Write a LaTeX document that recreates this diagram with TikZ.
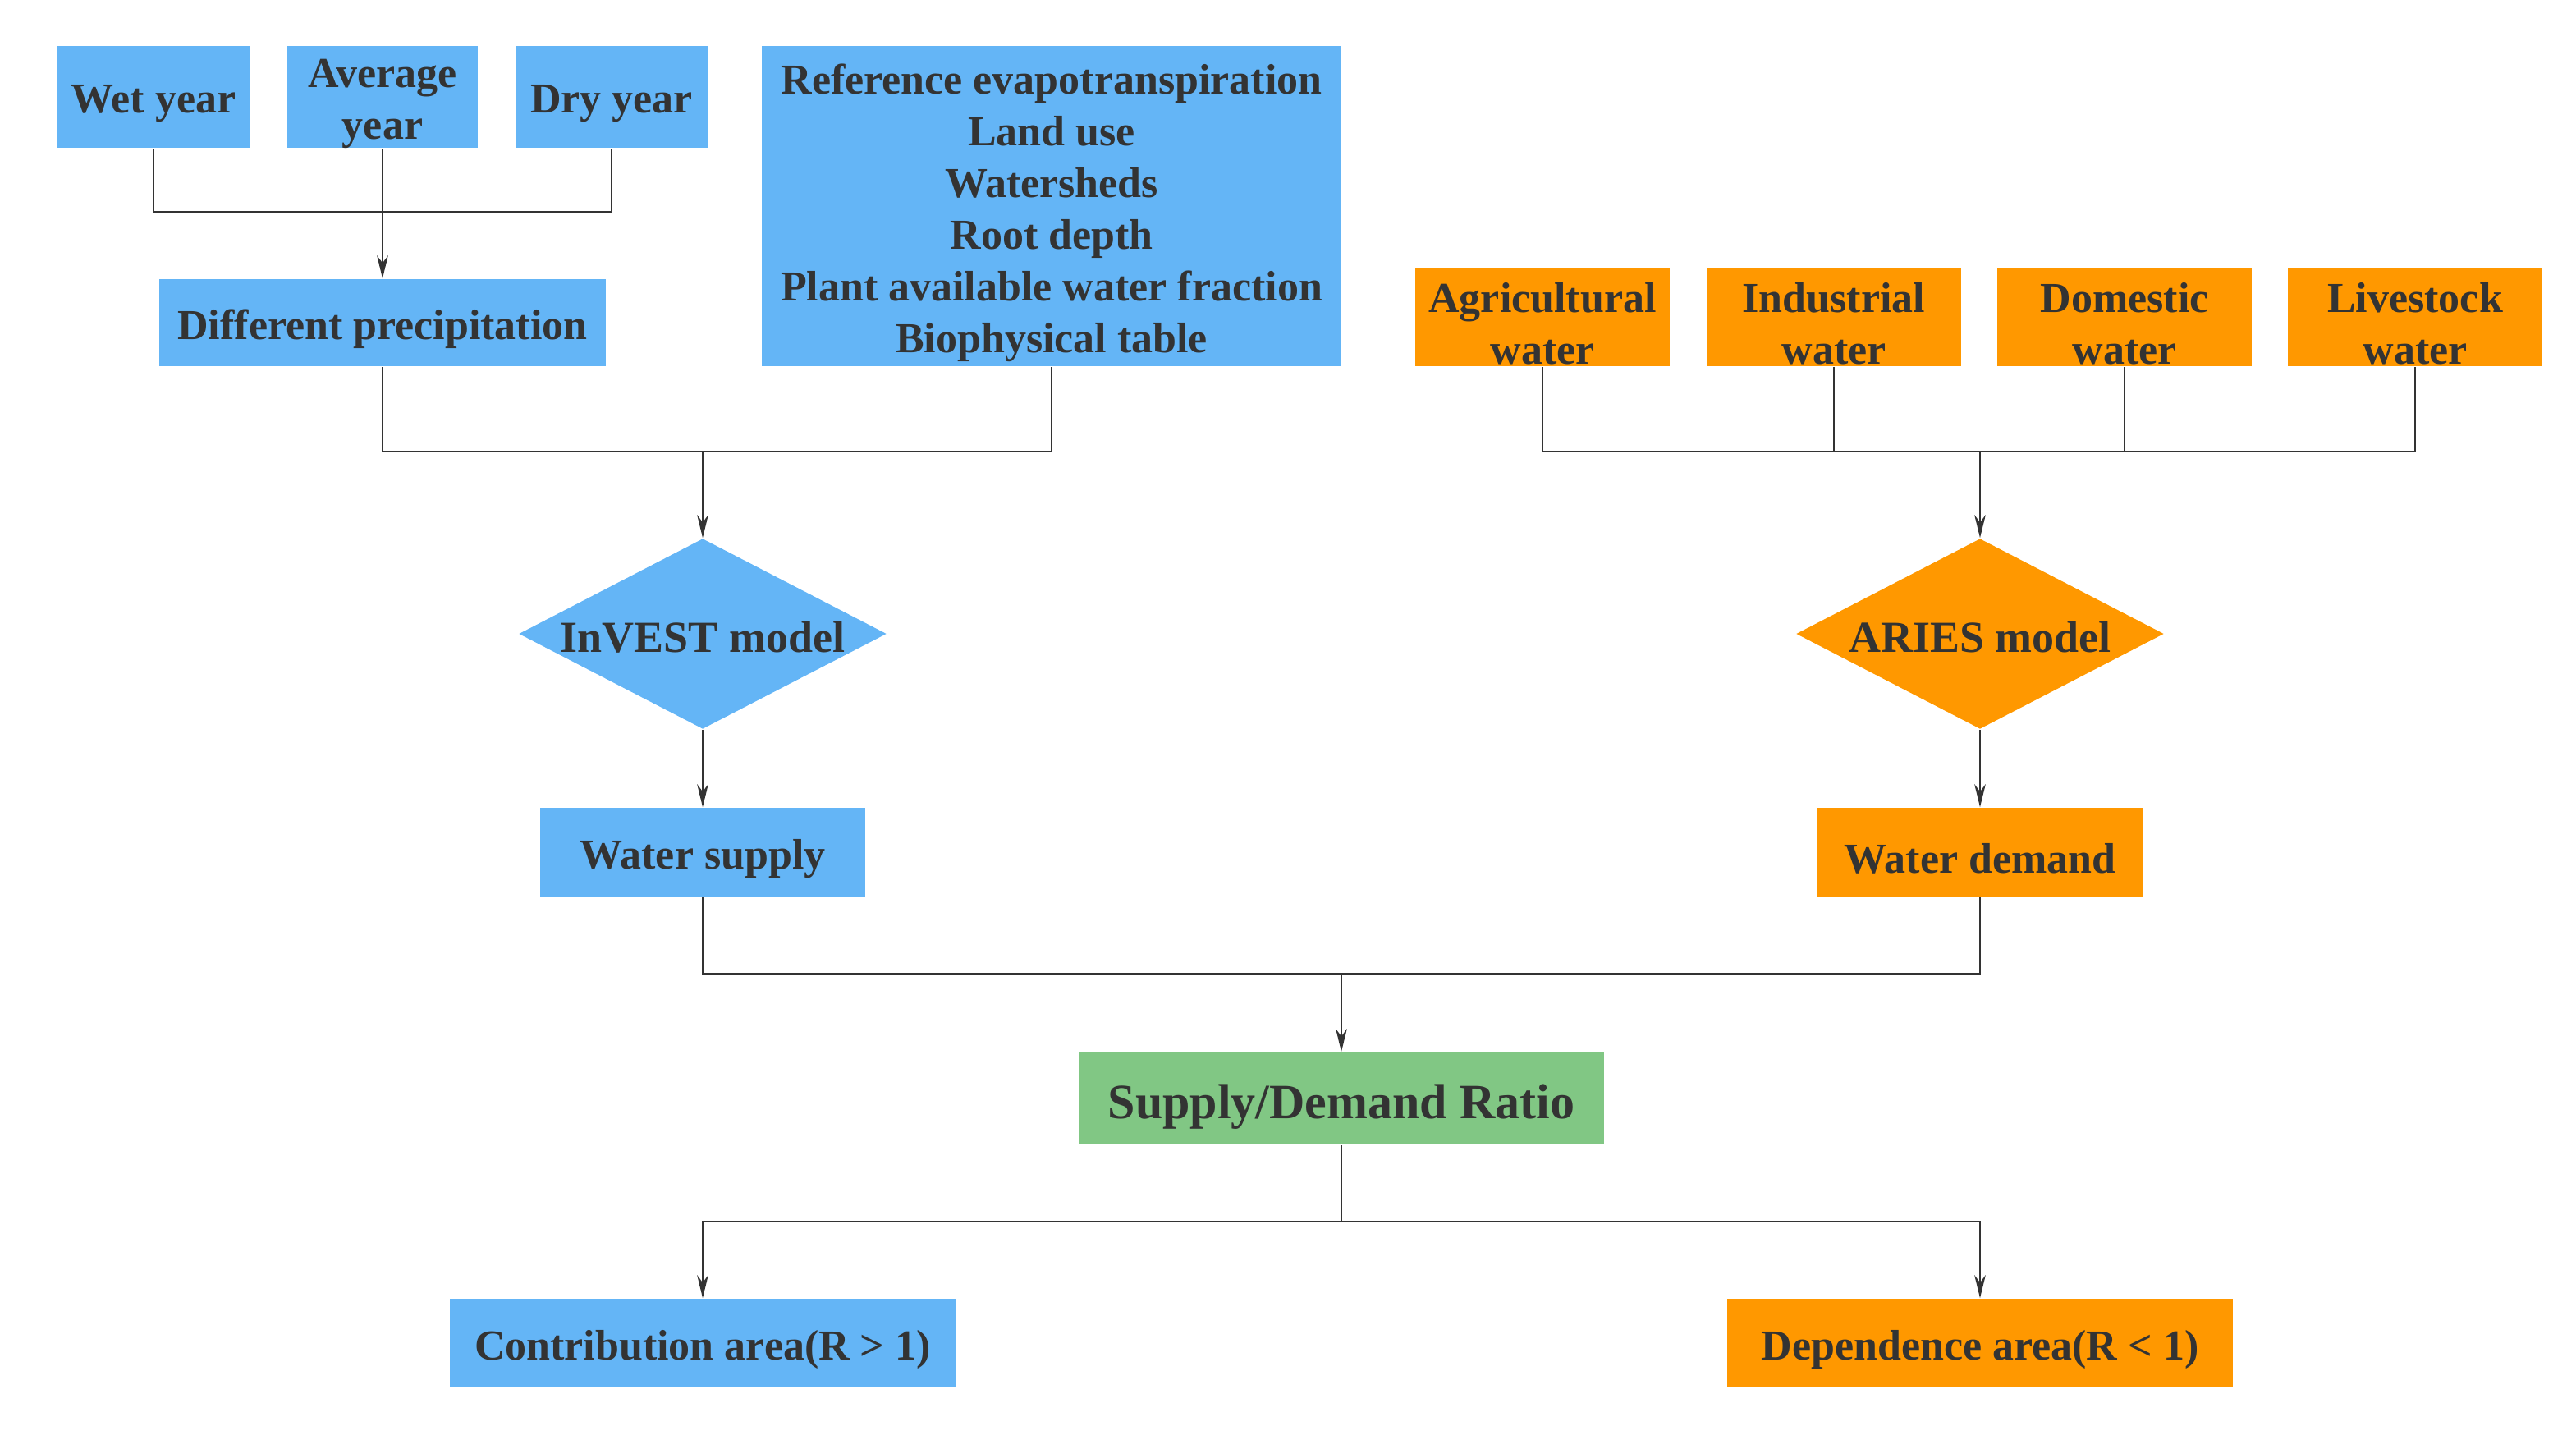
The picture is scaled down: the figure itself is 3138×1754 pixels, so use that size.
\documentclass[tikz,border=0pt]{standalone}
\usepackage{fontspec}
\setmainfont{Liberation Serif}[BoldFont={Liberation Serif Bold},ItalicFont={Liberation Serif Italic}]
\usetikzlibrary{shapes.geometric,arrows.meta}
\definecolor{bluebox}{HTML}{64B5F6}
\definecolor{orangebox}{HTML}{FF9800}
\definecolor{greenbox}{HTML}{81C784}
\definecolor{txt}{HTML}{333333}
\definecolor{ln}{HTML}{333333}
\begin{document}
\begin{tikzpicture}[x=0.25pt,y=-0.25pt,
  box/.style={rectangle,inner sep=0pt},
  bbox/.style={box,fill=bluebox},
  obox/.style={box,fill=orangebox},
  lab/.style={inner sep=0pt,align=center,text=txt,yshift=-2pt,font=\bfseries\fontsize{13}{15.75}\selectfont},
  dbox/.style={diamond,inner sep=0pt,minimum width=112pt,minimum height=58pt},
  dtext/.style={inner sep=0pt,text=txt,yshift=-1pt,font=\bfseries\fontsize{13.5}{16}\selectfont},
  conn/.style={draw=ln,line width=0.65pt},
  arr/.style={conn,-{Stealth[length=7pt,width=3.4pt]}}]
\useasboundingbox (0,0) rectangle (3138,1754);
% top-left blue boxes
\node[bbox,minimum width=58.5pt,minimum height=31pt,label={[lab]center:Wet year}] (wet) at (187,118) {};
\node[bbox,minimum width=58pt,minimum height=31pt,label={[lab]center:{Average\\year}}] (avg) at (466,118) {};
\node[bbox,minimum width=58.5pt,minimum height=31pt,label={[lab]center:Dry year}] (dry) at (745,118) {};
\node[bbox,minimum width=176.5pt,minimum height=97.5pt,label={[lab]center:{Reference evapotranspiration\\Land use\\Watersheds\\Root depth\\Plant available water fraction\\Biophysical table}}] (ref) at (1281,251) {};
\node[bbox,minimum width=136pt,minimum height=26.5pt,label={[lab]center:Different precipitation}] (prec) at (466,393) {};
% orange inputs
\node[obox,minimum width=77.5pt,minimum height=30pt,label={[lab]center:{Agricultural\\water}}] (agr) at (1879,386) {};
\node[obox,minimum width=77.5pt,minimum height=30pt,label={[lab]center:{Industrial\\water}}] (ind) at (2234,386) {};
\node[obox,minimum width=77.5pt,minimum height=30pt,label={[lab]center:{Domestic\\water}}] (dom) at (2588,386) {};
\node[obox,minimum width=77.5pt,minimum height=30pt,label={[lab]center:{Livestock\\water}}] (liv) at (2942,386) {};
% models
\node[dbox,fill=bluebox,label={[dtext]center:InVEST model}] (inv) at (856,772) {};
\node[dbox,fill=orangebox,label={[dtext]center:ARIES model}] (ari) at (2412,772) {};
% outputs
\node[bbox,minimum width=99pt,minimum height=27pt,label={[lab]center:Water supply}] (sup) at (856,1038) {};
\node[obox,minimum width=99pt,minimum height=27pt,label={[lab]center:Water demand}] (dem) at (2412,1038) {};
\node[box,fill=greenbox,minimum width=160pt,minimum height=28pt,label={[lab,yshift=-0.5pt,font=\bfseries\fontsize{15}{18}\selectfont]center:Supply/Demand Ratio}] (rat) at (1634,1338) {};
\node[bbox,minimum width=154pt,minimum height=27pt,label={[lab]center:Contribution area(R > 1)}] (con) at (856,1636) {};
\node[obox,minimum width=154pt,minimum height=27pt,label={[lab]center:Dependence area(R < 1)}] (dep) at (2412,1636) {};
% junction coordinates
\coordinate (j1) at (466,258);
\coordinate (j2) at (856,550);
\coordinate (j3) at (2412,550);
\coordinate (j4) at (1634,1186);
\coordinate (j5) at (1634,1488);
% connectors
\draw[conn] (wet.south) |- (j1) -| (dry.south);
\draw[conn] (avg.south) -- (j1);
\draw[arr] (j1) -- (prec.north);
\draw[conn] (prec.south) |- (j2) -| (ref.south);
\draw[arr] (j2) -- (inv.north);
\draw[conn] (agr.south) |- (j3) -| (liv.south);
\draw[conn] (ind.south) |- (j3);
\draw[conn] (dom.south) |- (j3);
\draw[arr] (j3) -- (ari.north);
\draw[arr] (inv.south) -- (sup.north);
\draw[arr] (ari.south) -- (dem.north);
\draw[conn] (sup.south) |- (j4) -| (dem.south);
\draw[arr] (j4) -- (rat.north);
\draw[conn] (rat.south) -- (j5);
\draw[arr] (j5) -| (con.north);
\draw[arr] (j5) -| (dep.north);
\end{tikzpicture}
\end{document}
